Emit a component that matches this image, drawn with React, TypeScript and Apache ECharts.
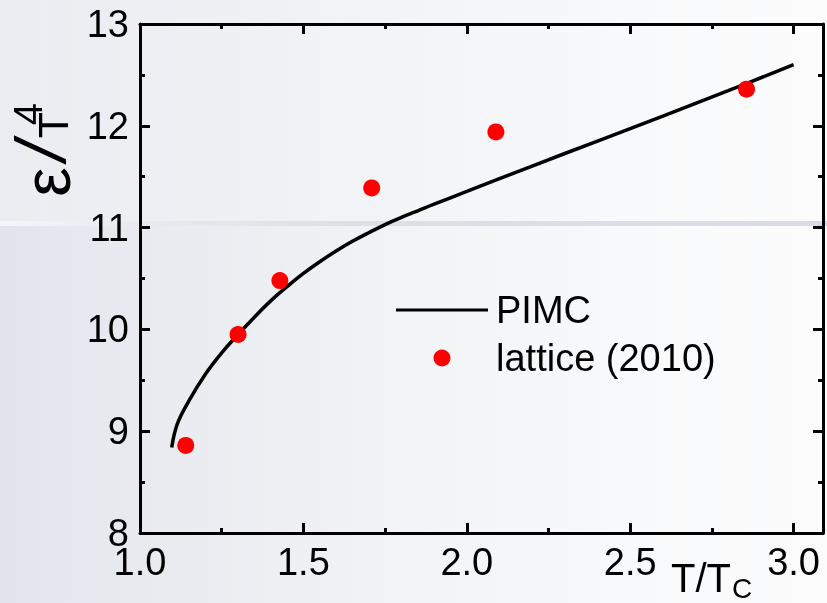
import React, { useEffect, useRef } from "react";
import * as echarts from "echarts";

// PIMC energy density curve, eps/T^4 versus T/Tc
const pimcT = [1.097, 1.114, 1.15, 1.2, 1.25, 1.3, 1.35, 1.4, 1.45, 1.5, 1.55, 1.6, 1.65, 1.7, 1.75, 1.8, 1.85, 1.9, 2.0, 2.2, 2.4, 2.6, 2.8, 3.0];
const pimcE = [8.84, 9.07, 9.3, 9.56, 9.77, 9.95, 10.12, 10.28, 10.42, 10.55, 10.665, 10.77, 10.865, 10.95, 11.03, 11.1, 11.165, 11.23, 11.355, 11.605, 11.85, 12.095, 12.345, 12.6];

// lattice QCD points (2010)
const latticeT = [1.14, 1.3, 1.428, 1.709, 2.089, 2.856];
const latticeE = [8.86, 9.95, 10.48, 11.39, 11.94, 12.36];

const X_MIN = 1.0;
const X_MAX = 3.09;
const Y_MIN = 8;
const Y_MAX = 13;

const FONT = '"Liberation Sans", Arial, sans-serif';

const isMajorX = (v: number) => Math.abs(v * 2 - Math.round(v * 2)) < 1e-6 && v <= 3.0001;

function buildOption() {
  const axisLine = { show: true, onZero: false, lineStyle: { color: "#000", width: 3 } };
  const noLine = { show: false, onZero: false };
  const xBase = { type: "value" as const, min: X_MIN, max: X_MAX, splitLine: { show: false } };
  const yBase = { type: "value" as const, min: Y_MIN, max: Y_MAX, splitLine: { show: false } };
  const majorTick = { show: true, inside: true, length: 10, lineStyle: { color: "#000", width: 3 } };
  const minorTickX = { show: true, inside: true, length: 5, lineStyle: { color: "#000", width: 3 } };
  const minorTickY = { show: true, splitNumber: 2, length: 5, lineStyle: { color: "#000", width: 3 } };

  const rotText = (text: string, x: number, y: number, fontSize: number, fontStyle = "normal") => ({
    type: "text",
    z: 10,
    x,
    y,
    rotation: Math.PI / 2,
    style: { text, fontSize, fontStyle, fontFamily: FONT, fill: "#000", align: "center", verticalAlign: "middle" },
  });

  return {
    animation: false,
    backgroundColor: "transparent",
    grid: { left: 140, right: 4, top: 24, bottom: 70, containLabel: false },
    xAxis: [
      {
        ...xBase,
        position: "bottom",
        interval: 0.5,
        axisLine,
        axisTick: majorTick,
        axisLabel: {
          show: true,
          margin: 10,
          color: "#000",
          fontSize: 38,
          fontFamily: FONT,
          showMaxLabel: false,
          formatter: (v: number) => (isMajorX(v) ? v.toFixed(1) : ""),
        },
      },
      {
        ...xBase,
        position: "bottom",
        interval: 0.25,
        axisLine: noLine,
        axisTick: minorTickX,
        axisLabel: { show: false },
      },
      {
        ...xBase,
        position: "top",
        interval: 0.5,
        axisLine,
        axisTick: majorTick,
        axisLabel: { show: false },
      },
      {
        ...xBase,
        position: "top",
        interval: 0.25,
        axisLine: noLine,
        axisTick: minorTickX,
        axisLabel: { show: false },
      },
    ],
    yAxis: [
      {
        ...yBase,
        position: "left",
        interval: 1,
        axisLine,
        axisTick: majorTick,
        minorTick: minorTickY,
        axisLabel: {
          show: true,
          margin: 11,
          color: "#000",
          fontSize: 38,
          fontFamily: FONT,
          formatter: (v: number) => String(Math.round(v)),
        },
      },
      {
        ...yBase,
        position: "right",
        interval: 1,
        axisLine,
        axisTick: majorTick,
        minorTick: minorTickY,
        axisLabel: { show: false },
      },
    ],
    legend: {
      show: true,
      orient: "vertical",
      left: 391,
      top: 285,
      itemWidth: 92,
      itemHeight: 17,
      itemGap: 8,
      data: [
        { name: "PIMC", icon: "path://M0 0H92V3H0Z" },
        { name: "lattice (2010)", icon: "circle" },
      ],
      textStyle: { color: "#000", fontSize: 38, fontFamily: FONT, lineHeight: 40, padding: [0, 0, 0, 3] },
    },
    series: [
      {
        name: "PIMC",
        type: "line",
        xAxisIndex: 0,
        yAxisIndex: 0,
        data: pimcT.map((t, i) => [t, pimcE[i]]),
        showSymbol: false,
        symbol: "none",
        smooth: 0.4,
        lineStyle: { color: "#000", width: 3.5 },
        itemStyle: { color: "#000" },
        z: 3,
      },
      {
        name: "lattice (2010)",
        type: "scatter",
        xAxisIndex: 0,
        yAxisIndex: 0,
        data: latticeT.map((t, i) => [t, latticeE[i]]),
        symbol: "circle",
        symbolSize: 17,
        itemStyle: { color: "#ff0000", opacity: 1 },
        z: 4,
      },
    ],
    graphic: [
      {
        type: "rect",
        z: -100,
        silent: true,
        shape: { x: 0, y: 0, width: 827, height: 603 },
        style: {
          fill: new echarts.graphic.LinearGradient(0, 0, 1, 0, [
            { offset: 0, color: "#e2e5ec" },
            { offset: 0.4, color: "#eff1f4" },
            { offset: 0.75, color: "#f8f9fa" },
            { offset: 1, color: "#fcfcfd" },
          ]),
        },
      },
      {
        type: "rect",
        z: -99,
        silent: true,
        shape: { x: 0, y: 0, width: 827, height: 221 },
        style: {
          fill: new echarts.graphic.LinearGradient(0, 0, 1, 0, [
            { offset: 0, color: "rgba(255,255,255,0.3)" },
            { offset: 0.5, color: "rgba(255,255,255,0.08)" },
            { offset: 1, color: "rgba(255,255,255,0)" },
          ]),
        },
      },
      {
        type: "rect",
        z: -98,
        silent: true,
        shape: { x: 0, y: 221, width: 827, height: 5 },
        style: {
          fill: new echarts.graphic.LinearGradient(0, 0, 1, 0, [
            { offset: 0, color: "#f5f6f8" },
            { offset: 0.15, color: "#e9ebf0" },
            { offset: 0.4, color: "#dde0e7" },
            { offset: 1, color: "#d9dce5" },
          ]),
        },
      },
      // y-axis title: eps / T^4, reading bottom to top
      rotText("ε", 47, 182, 66),
      rotText("/", 41, 151, 70, "italic"),
      rotText("T", 53, 125, 43),
      rotText("4", 28, 114, 40),
      // x-axis title: T/Tc
      {
        type: "text",
        z: 10,
        x: 701,
        y: 578,
        style: { text: "T/T", fontSize: 40, fontFamily: FONT, fill: "#000", align: "center", verticalAlign: "middle" },
      },
      {
        type: "text",
        z: 10,
        x: 742,
        y: 588,
        style: { text: "C", fontSize: 28, fontFamily: FONT, fill: "#000", align: "center", verticalAlign: "middle" },
      },
    ],
  };
}

export default function App() {
  const ref = useRef<HTMLDivElement>(null);

  useEffect(() => {
    if (!ref.current) return;
    const chart = echarts.init(ref.current, undefined, { renderer: "svg" });
    chart.setOption(buildOption() as any);
    return () => chart.dispose();
  }, []);

  return (
    <div
      ref={ref}
      style={{ position: "fixed", left: 0, top: 0, width: 827, height: 603 }}
    />
  );
}
